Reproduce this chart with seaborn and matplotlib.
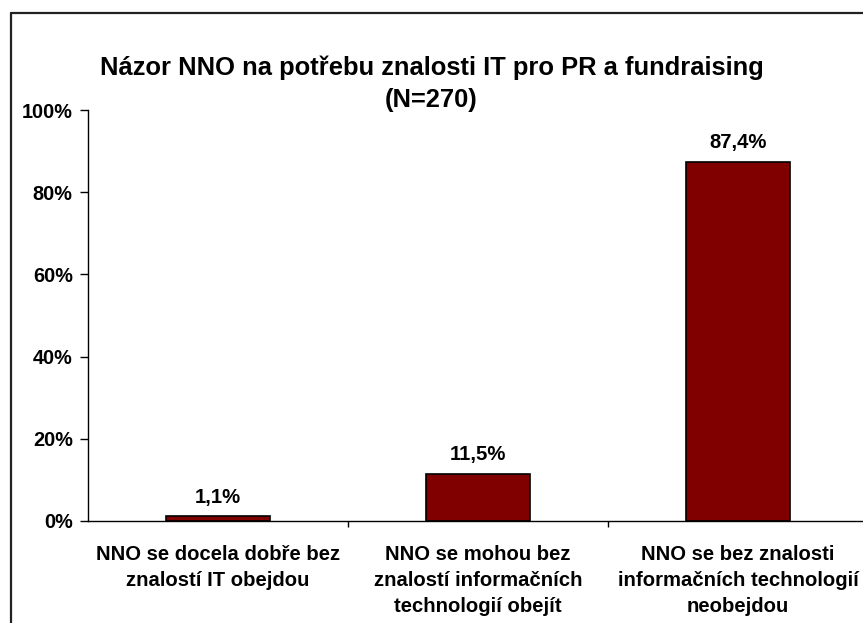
import matplotlib
matplotlib.use("Agg")
import matplotlib.pyplot as plt
import matplotlib.lines as mlines
import pandas as pd
import seaborn as sns
import numpy as np

# data
categories = [
    "NNO se docela dobře bez\nznalostí IT obejdou",
    "NNO se mohou bez\nznalostí informačních\ntechnologií obejít",
    "NNO se bez znalosti\ninformačních technologií\nneobejdou",
]
shares = [1.1, 11.5, 87.4]
value_labels = ["1,1%", "11,5%", "87,4%"]
yticks = [0, 20, 40, 60, 80, 100]
ytick_labels = ["0%", "20%", "40%", "60%", "80%", "100%"]

df = pd.DataFrame({"cat": categories, "share": shares})

sns.set_style("white")
plt.rcParams["font.family"] = ["Liberation Sans", "DejaVu Sans"]
plt.rcParams["font.weight"] = "bold"
plt.rcParams["text.color"] = "black"
plt.rcParams["xtick.color"] = "black"
plt.rcParams["ytick.color"] = "black"

fig = plt.figure(figsize=(8.63, 6.23), dpi=100)
ax = fig.add_axes([88 / 863, 102 / 623, 780 / 863, 411 / 623])

sns.barplot(data=df, x="cat", y="share", color="#800000", width=0.4,
            edgecolor="black", linewidth=1.2, saturation=1, ax=ax)

ax.set_xlim(-0.5, 2.5)
ax.set_ylim(0, 100)
ax.set_yticks(yticks)
ax.set_yticklabels(ytick_labels, fontsize=14.3, fontweight="bold", color="black")
ax.set_xticks([0, 1, 2])
ax.set_xticklabels(categories, fontsize=14.6, fontweight="bold", linespacing=1.45, color="black")
ax.set_xticks([0.5, 1.5, 2.5], minor=True)
ax.tick_params(axis="x", which="major", bottom=True, length=0, pad=17.5)
ax.tick_params(axis="x", which="minor", bottom=True, length=4, width=1, color="black", direction="out")
ax.tick_params(axis="y", left=True, length=6, width=1, color="black", direction="out", pad=5)
ax.set_xlabel("")
ax.set_ylabel("")

sns.despine(ax=ax, top=True, right=True)
for s in ["left", "bottom"]:
    ax.spines[s].set_color("black")
    ax.spines[s].set_linewidth(1)

for i, (v, lab) in enumerate(zip(shares, value_labels)):
    ax.annotate(lab, (i, v), xytext=(0, 7), textcoords="offset points",
                ha="center", va="bottom", fontsize=14.6, fontweight="bold", color="black")

fig.text(0.5, 1 - 68 / 623, "Názor NNO na potřebu znalosti IT pro PR a fundraising",
         ha="center", va="center", fontsize=18.4, fontweight="bold", color="black")
fig.text(0.5, 1 - 100 / 623, "(N=270)",
         ha="center", va="center", fontsize=18.4, fontweight="bold", color="black")

# outer chart frame (only left and top edges fall inside the picture)
fx, fy = 10.5 / 863, 1 - 13 / 623
fig.add_artist(mlines.Line2D([fx, fx], [-0.1, fy], transform=fig.transFigure,
                             color="#222222", linewidth=1.6))
fig.add_artist(mlines.Line2D([fx, 1.1], [fy, fy], transform=fig.transFigure,
                             color="#222222", linewidth=1.6))

fig.savefig("out.png", dpi=100)
